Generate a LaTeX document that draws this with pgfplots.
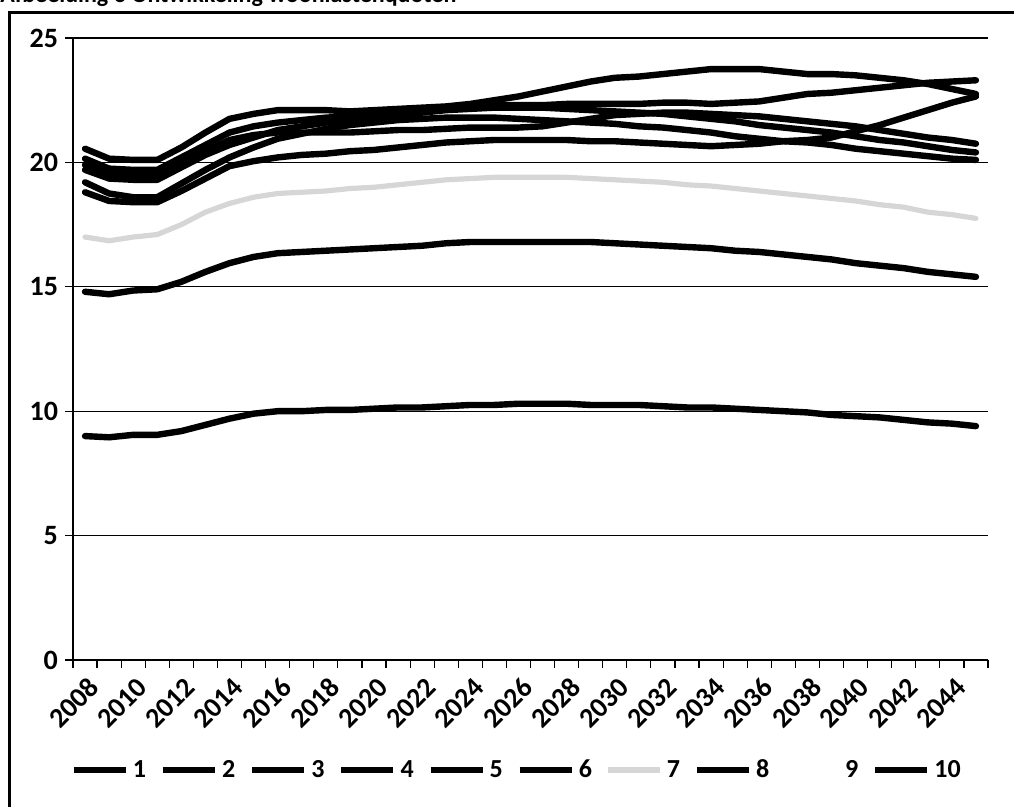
\documentclass[border=0pt]{standalone}
\usepackage{fontspec}
\setmainfont{Carlito}
\usepackage{pgfplots}
\pgfplotsset{compat=1.18}
\usepackage{pgfplotstable}

\pgfplotstableread{
year s1    s2    s3    s4    s5    s6    s7    s8    s10
2008 20.55 20.15 19.90 19.70 19.20 18.80 17.00 14.80 9.00
2009 20.15 19.75 19.55 19.35 18.75 18.45 16.85 14.70 8.95
2010 20.10 19.70 19.50 19.30 18.60 18.40 17.00 14.85 9.05
2011 20.10 19.70 19.50 19.30 18.60 18.40 17.10 14.90 9.05
2012 20.60 20.20 19.95 19.80 19.15 18.85 17.50 15.20 9.20
2013 21.20 20.70 20.45 20.30 19.70 19.35 18.00 15.60 9.45
2014 21.75 21.20 20.90 20.70 20.20 19.85 18.35 15.95 9.70
2015 21.95 21.45 21.10 21.00 20.60 20.05 18.60 16.20 9.90
2016 22.10 21.60 21.20 21.30 20.95 20.20 18.75 16.35 10.00
2017 22.10 21.70 21.20 21.45 21.15 20.30 18.80 16.40 10.00
2018 22.10 21.80 21.20 21.60 21.35 20.35 18.85 16.45 10.05
2019 22.05 21.85 21.20 21.70 21.50 20.45 18.95 16.50 10.05
2020 22.10 21.95 21.25 21.80 21.60 20.50 19.00 16.55 10.10
2021 22.15 22.00 21.30 21.90 21.70 20.60 19.10 16.60 10.15
2022 22.20 22.10 21.30 22.00 21.75 20.70 19.20 16.65 10.15
2023 22.25 22.15 21.35 22.10 21.80 20.80 19.30 16.75 10.20
2024 22.35 22.20 21.40 22.15 21.80 20.85 19.35 16.80 10.25
2025 22.50 22.30 21.40 22.20 21.80 20.90 19.40 16.80 10.25
2026 22.65 22.30 21.40 22.20 21.75 20.90 19.40 16.80 10.30
2027 22.85 22.30 21.45 22.20 21.70 20.90 19.40 16.80 10.30
2028 23.05 22.35 21.60 22.15 21.65 20.90 19.40 16.80 10.30
2029 23.25 22.35 21.75 22.10 21.60 20.85 19.35 16.80 10.25
2030 23.40 22.35 21.90 22.05 21.55 20.85 19.30 16.75 10.25
2031 23.45 22.35 21.95 22.00 21.45 20.80 19.25 16.70 10.25
2032 23.55 22.40 22.00 21.95 21.40 20.75 19.20 16.65 10.20
2033 23.65 22.40 22.00 21.85 21.30 20.70 19.10 16.60 10.15
2034 23.75 22.35 21.95 21.75 21.20 20.65 19.05 16.55 10.15
2035 23.75 22.40 21.90 21.65 21.05 20.70 18.95 16.45 10.10
2036 23.75 22.45 21.85 21.50 20.95 20.75 18.85 16.40 10.05
2037 23.65 22.60 21.75 21.40 20.85 20.85 18.75 16.30 10.00
2038 23.55 22.75 21.65 21.30 20.80 20.90 18.65 16.20 9.95
2039 23.55 22.80 21.55 21.20 20.70 21.00 18.55 16.10 9.85
2040 23.50 22.90 21.45 21.05 20.55 21.25 18.45 15.95 9.80
2041 23.40 23.00 21.30 20.90 20.45 21.50 18.30 15.85 9.75
2042 23.30 23.10 21.15 20.80 20.35 21.80 18.20 15.75 9.65
2043 23.15 23.20 21.00 20.65 20.25 22.10 18.00 15.60 9.55
2044 22.95 23.25 20.90 20.50 20.15 22.40 17.90 15.50 9.50
2045 22.75 23.30 20.75 20.40 20.10 22.65 17.75 15.40 9.40
}\data

\begin{document}
\begin{tikzpicture}
\begin{axis}[
  scale only axis, width=457.5pt, height=311pt,
  xmin=2007.5, xmax=2045.5, ymin=0, ymax=25,
  axis lines*=left,
  axis line style={line width=0.6pt, black},
  xtick={2008,2010,...,2044},
  minor xtick={2007.5,2008.5,...,2045.5},
  major x tick style={draw=none},
  minor x tick style={line width=0.6pt, black},
  minor tick length=4pt, major tick length=4pt,
  tick align=outside,
  xtick pos=left, ytick pos=left,
  ytick={0,5,...,25},
  ytick style={line width=0.6pt, black},
  ymajorgrids, major grid style={black, line width=0.6pt},
  x tick label style={/pgf/number format/1000 sep={}, xshift=7pt, yshift=-5pt, rotate=45, anchor=east},
  ticklabel style={font=\bfseries\fontsize{14}{16}\selectfont},
  /pgf/number format/assume math mode=true,
  cycle list={{black, mark=none}},
  every axis plot/.append style={line width=3.2pt, line join=round, line cap=round},
  legend columns=10,
  legend style={draw=none, at={(0.486,-0.177)}, anchor=center,
    font=\bfseries\fontsize{13}{15}\selectfont,
    /tikz/every even column/.append style={column sep=4.8pt}},
  legend image code/.code={\draw[#1, line cap=butt] (0pt,0pt) -- (26pt,0pt);},
]
\addplot table[x=year,y=s1]{\data}; \addlegendentry{1}
\addplot table[x=year,y=s2]{\data}; \addlegendentry{2}
\addplot table[x=year,y=s3]{\data}; \addlegendentry{3}
\addplot table[x=year,y=s4]{\data}; \addlegendentry{4}
\addplot table[x=year,y=s5]{\data}; \addlegendentry{5}
\addplot table[x=year,y=s6]{\data}; \addlegendentry{6}
\addplot[black!16, mark=none, line width=2.6pt] table[x=year,y=s7]{\data}; \addlegendentry{7}
\addplot table[x=year,y=s8]{\data}; \addlegendentry{8}
\addlegendimage{white, line width=3.2pt}
\addlegendentry{9}
\addplot table[x=year,y=s10]{\data}; \addlegendentry{10}
\end{axis}
\draw[line width=1.5pt] (-31.5pt,-90pt) -- (-31.5pt,323.5pt) -- (490pt,323.5pt);
\node[anchor=base west, font=\bfseries\fontsize{12}{14}\selectfont, inner sep=0pt] at (-36.5pt,328.8pt) {Afbeelding 3 Ontwikkeling woonlastenquoten};
\pgfresetboundingbox
\path (-36.5pt,-73.5pt) rectangle (470.5pt,330pt);
\end{tikzpicture}
\end{document}
